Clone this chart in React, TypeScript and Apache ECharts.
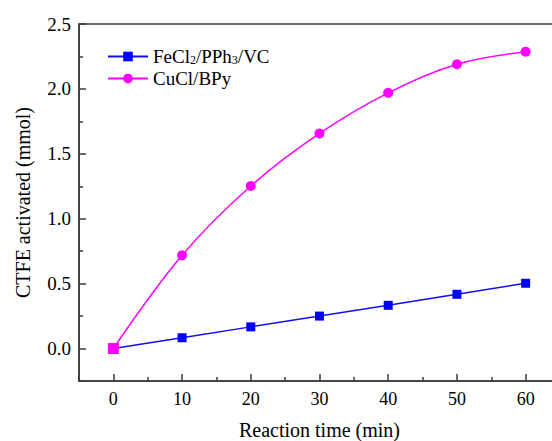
import React, { useEffect, useRef } from "react";
import * as echarts from "echarts";

const times = [0, 10, 20, 30, 40, 50, 60];
const feValues = [0, 0.083, 0.167, 0.25, 0.333, 0.418, 0.503];
const cuValues = [0, 0.718, 1.252, 1.657, 1.97, 2.19, 2.287];
const xMajorTicks = [0, 10, 20, 30, 40, 50, 60];
const xMinorTicks = [-5, 5, 15, 25, 35, 45, 55, 65];
const yMajorTicks = [0, 0.5, 1.0, 1.5, 2.0, 2.5];
const yMinorTicks = [-0.25, 0.25, 0.75, 1.25, 1.75, 2.25];
const seriesNames = ["FeCl2/PPh3/VC", "CuCl/BPy"];

const FONT = "Liberation Serif";
const AXIS_COLOR = "#3a3a3a";

const serif = (size: number) => ({ fontSize: size, fontFamily: FONT, color: "#000", fontWeight: "normal" });

export default function App() {
  const ref = useRef<HTMLDivElement>(null);
  useEffect(() => {
    if (!ref.current) return;
    const chart = echarts.init(ref.current, undefined, { renderer: "svg" });
    const baseX = {
      type: "value",
      min: -5,
      max: 65,
      position: "bottom",
      gridIndex: 0,
    };
    const baseY = {
      type: "value",
      min: -0.25,
      max: 2.5,
      position: "left",
      gridIndex: 0,
    };
    chart.setOption({
      animation: false,
      backgroundColor: "#fff",
      textStyle: { fontFamily: FONT },
      grid: {
        left: 79,
        top: 24,
        right: -8,
        bottom: 60,
        containLabel: false,
        outerBoundsMode: "none",
        show: true,
        borderColor: AXIS_COLOR,
        borderWidth: 1.5,
        backgroundColor: "transparent",
      },
      legend: {
        orient: "vertical",
        left: 102,
        top: 42,
        itemWidth: 40,
        itemHeight: 12,
        itemGap: 3,
        data: seriesNames,
        formatter: (name: string) =>
          name === seriesNames[0]
            ? "{a|FeCl}{s|2}{a|/PPh}{s|3}{a|/VC}"
            : "{a|CuCl/BPy}",
        textStyle: {
          color: "#000",
          fontFamily: FONT,
          rich: {
            a: serif(19),
            s: {
              ...serif(12),
              verticalAlign: "bottom",
              padding: [6, 0, 0, 0],
            },
          },
        },
      },
      xAxis: [
        {
          ...baseX,
          name: "Reaction time (min)",
          nameLocation: "middle",
          nameGap: 39,
          nameMoveOverlap: false,
          nameTextStyle: serif(20),
          axisLine: { onZero: false, lineStyle: { color: AXIS_COLOR, width: 1.5 } },
          axisTick: {
            inside: true,
            length: 7,
            customValues: xMajorTicks,
            lineStyle: { color: AXIS_COLOR, width: 1.5 },
          },
          axisLabel: {
            customValues: xMajorTicks,
            margin: 9,
            ...serif(18),
          },
          splitLine: { show: false },
        },
        {
          ...baseX,
          axisLine: { show: false, onZero: false },
          axisTick: {
            inside: true,
            length: 4,
            customValues: xMinorTicks,
            lineStyle: { color: AXIS_COLOR, width: 1.5 },
          },
          axisLabel: { show: false },
          splitLine: { show: false },
        },
      ],
      yAxis: [
        {
          ...baseY,
          name: "CTFE activated (mmol)",
          nameLocation: "middle",
          nameGap: 46,
          nameMoveOverlap: false,
          nameTextStyle: serif(20),
          axisLine: { show: true, onZero: false, lineStyle: { color: AXIS_COLOR, width: 1.5 } },
          axisTick: {
            show: true,
            inside: true,
            length: 7,
            customValues: yMajorTicks,
            lineStyle: { color: AXIS_COLOR, width: 1.5 },
          },
          axisLabel: {
            customValues: yMajorTicks,
            margin: 8,
            ...serif(19),
            formatter: (v: number) => v.toFixed(1),
          },
          splitLine: { show: false },
        },
        {
          ...baseY,
          axisLine: { show: false, onZero: false },
          axisTick: {
            show: true,
            inside: true,
            length: 4,
            customValues: yMinorTicks,
            lineStyle: { color: AXIS_COLOR, width: 1.5 },
          },
          axisLabel: { show: false },
          splitLine: { show: false },
        },
      ],
      series: [
        {
          name: seriesNames[0],
          type: "line",
          xAxisIndex: 0,
          yAxisIndex: 0,
          data: times.map((t, i) => [t, feValues[i]]),
          symbol: "rect",
          symbolSize: 9,
          lineStyle: { color: "#1010ee", width: 1.5 },
          itemStyle: { color: "#0000ff" },
        },
        {
          name: seriesNames[1],
          type: "line",
          xAxisIndex: 0,
          yAxisIndex: 0,
          smooth: 0.35,
          data: times.map((t, i) =>
            i === 0
              ? { value: [t, cuValues[i]], symbol: "rect", symbolSize: 11 }
              : [t, cuValues[i]]
          ),
          symbol: "circle",
          symbolSize: 10,
          lineStyle: { color: "#ff00ff", width: 1.5 },
          itemStyle: { color: "#ff00ff" },
        },
      ],
    });
    return () => chart.dispose();
  }, []);
  return (
    <div
      ref={ref}
      style={{ position: "absolute", left: 0, top: 0, width: 552, height: 441 }}
    />
  );
}
